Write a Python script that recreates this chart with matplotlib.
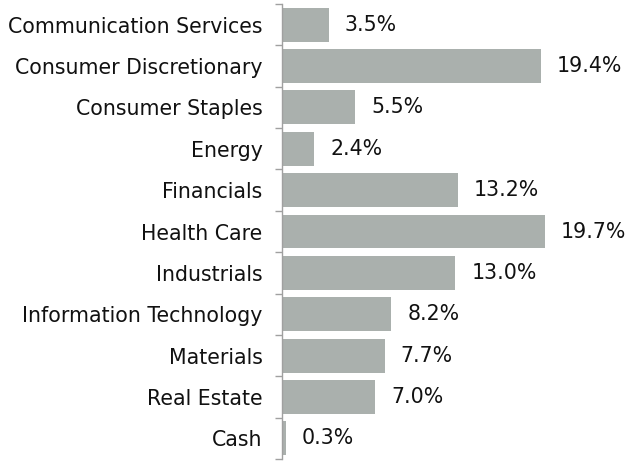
import matplotlib.pyplot as plt
import numpy as np

sectors = [
    "Communication Services",
    "Consumer Discretionary",
    "Consumer Staples",
    "Energy",
    "Financials",
    "Health Care",
    "Industrials",
    "Information Technology",
    "Materials",
    "Real Estate",
    "Cash",
]
weights = [3.5, 19.4, 5.5, 2.4, 13.2, 19.7, 13.0, 8.2, 7.7, 7.0, 0.3]

bar_color = "#aab0ad"
axis_color = "#a0a0a0"
text_color = "#111111"
fs = 14.8

fig = plt.figure(figsize=(6.41, 4.63), dpi=100)
ax = fig.add_axes([282 / 641, 4 / 463, 359 / 641, 455 / 463])

y = np.arange(len(sectors))
ax.barh(y, weights, height=0.82, color=bar_color)
ax.set_ylim(len(sectors) - 0.5, -0.5)
ax.set_xlim(0, 26.9)

for yi, w in zip(y, weights):
    ax.text(w + 1.2, yi, f"{w:.1f}%", va="center", ha="left", fontsize=fs, color=text_color)

ax.set_yticks(y)
ax.set_yticklabels(sectors, fontsize=fs, color=text_color)
ax.tick_params(axis="y", which="major", length=0, pad=14)
ax.set_yticks(np.arange(len(sectors) + 1) - 0.5, minor=True)
ax.tick_params(axis="y", which="minor", length=5, color=axis_color, width=1)
ax.set_xticks([])

for s in ["top", "right", "bottom"]:
    ax.spines[s].set_visible(False)
ax.spines["left"].set_color(axis_color)
ax.spines["left"].set_linewidth(1)

fig.savefig("out.png", dpi=100)
